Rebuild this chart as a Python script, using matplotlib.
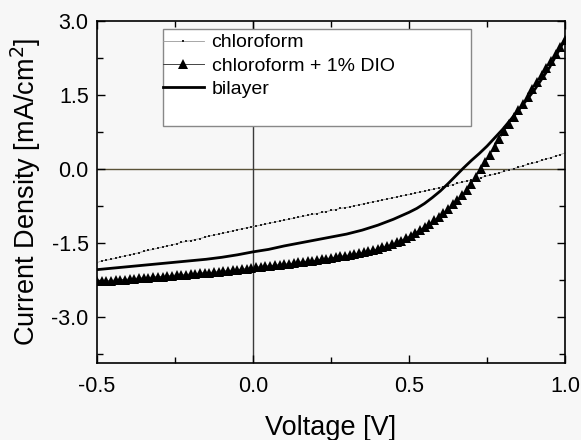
import numpy as np
import matplotlib
matplotlib.use("Agg")
import matplotlib.pyplot as plt
from matplotlib.patches import Rectangle
from matplotlib.ticker import MultipleLocator

plt.rcParams['font.family'] = ['Liberation Sans', 'DejaVu Sans']

# Voltage grid of the measured sweeps: -0.5 V to 1.0 V in 0.015 V steps
voltage = np.round(np.linspace(-0.5, 1.0, 101), 3)

chloroform = [
    -1.90, -1.86, -1.85, -1.83, -1.81, -1.785, -1.76, -1.74, -1.72, -1.695,
    -1.67, -1.65, -1.63, -1.605, -1.58, -1.56, -1.54, -1.515, -1.49, -1.47,
    -1.45, -1.43, -1.41, -1.385, -1.36, -1.34, -1.32, -1.30, -1.28, -1.255,
    -1.23, -1.215, -1.19, -1.175, -1.16, -1.135, -1.12, -1.095, -1.08, -1.055,
    -1.04, -1.02, -1.00, -0.98, -0.96, -0.94, -0.92, -0.905, -0.88, -0.865,
    -0.84, -0.825, -0.80, -0.785, -0.77, -0.745, -0.73, -0.705, -0.69, -0.665,
    -0.65, -0.63, -0.61, -0.59, -0.57, -0.55, -0.53, -0.515, -0.49, -0.47,
    -0.45, -0.43, -0.41, -0.385, -0.36, -0.34, -0.32, -0.295, -0.27, -0.245,
    -0.23, -0.20, -0.18, -0.15, -0.13, -0.10, -0.08, -0.05, -0.02, 0.005,
    0.03, 0.06, 0.09, 0.11, 0.14, 0.17, 0.20, 0.23, 0.26, 0.29,
    0.32,
]

chloroform_dio = [
    -2.28, -2.27, -2.27, -2.26, -2.25, -2.24, -2.24, -2.23, -2.22, -2.21,
    -2.21, -2.20, -2.19, -2.18, -2.18, -2.17, -2.16, -2.15, -2.15, -2.14,
    -2.13, -2.12, -2.11, -2.10, -2.10, -2.09, -2.08, -2.07, -2.06, -2.05,
    -2.04, -2.03, -2.02, -2.01, -1.99, -1.98, -1.97, -1.96, -1.95, -1.94,
    -1.93, -1.92, -1.91, -1.89, -1.88, -1.87, -1.86, -1.85, -1.83, -1.82,
    -1.80, -1.79, -1.77, -1.76, -1.74, -1.72, -1.71, -1.69, -1.67, -1.645,
    -1.62, -1.59, -1.56, -1.525, -1.49, -1.45, -1.40, -1.35, -1.29, -1.23,
    -1.17, -1.11, -1.04, -0.97, -0.89, -0.81, -0.72, -0.63, -0.53, -0.42,
    -0.30, -0.16, -0.01, 0.14, 0.28, 0.44, 0.60, 0.76, 0.91, 1.06,
    1.19, 1.32, 1.46, 1.61, 1.76, 1.91, 2.05, 2.19, 2.32, 2.46,
    2.60,
]

voltage_bilayer = [
    -0.50, -0.45, -0.40, -0.35, -0.30, -0.25, -0.20, -0.15, -0.10, -0.05,
    0.00, 0.05, 0.10, 0.15, 0.20, 0.25, 0.30, 0.35,
    0.400, 0.425, 0.450, 0.475, 0.500, 0.525, 0.550, 0.575, 0.600, 0.625,
    0.650, 0.675, 0.700, 0.725, 0.750,
    0.80, 0.85, 0.90, 0.95, 1.00,
]
bilayer = [
    -2.04, -2.01, -1.98, -1.95, -1.92, -1.89, -1.86, -1.83, -1.79, -1.74,
    -1.68, -1.63, -1.56, -1.50, -1.44, -1.38, -1.32, -1.24,
    -1.14, -1.08, -1.02, -0.95, -0.88, -0.80, -0.70, -0.58, -0.45, -0.30,
    -0.14, 0.02, 0.17, 0.31, 0.46,
    0.80, 1.18, 1.58, 2.05, 2.62,
]

labels = ["chloroform", "chloroform + 1% DIO", "bilayer"]
x_ticks = [-0.5, 0.0, 0.5, 1.0]
y_ticks = [-3.0, -1.5, 0.0, 1.5, 3.0]

bg = '#f7f7f7'
fig = plt.figure(figsize=(5.81, 4.40), dpi=100, facecolor=bg)
ax = fig.add_axes([97 / 581, 1 - 363 / 440, 468 / 581, 342.3 / 440])
ax.set_facecolor(bg)

ax.axhline(0, color='#5b5338', lw=1.0, zorder=1)
ax.axvline(0, color='#3a3a3a', lw=1.0, zorder=1)

l1, = ax.plot(voltage, chloroform, color='#999999', lw=0.6,
              marker='s', markersize=1.9, markerfacecolor='#222222',
              markeredgecolor='#222222', markeredgewidth=0, zorder=3)
l2, = ax.plot(voltage, chloroform_dio, color='#444444', lw=0.7,
              marker='^', markersize=7.5, markerfacecolor='black',
              markeredgecolor='black', markeredgewidth=0, zorder=3)
l3, = ax.plot(voltage_bilayer, bilayer, color='black', lw=2.0, zorder=4)

ax.set_xlim(-0.5, 1.0)
ax.set_ylim(-3.93, 3.0)
ax.set_xticks(x_ticks)
ax.set_xticklabels([f"{t:.1f}" for t in x_ticks])
ax.set_yticks(y_ticks)
ax.set_yticklabels([f"{t:.1f}" for t in y_ticks])
ax.xaxis.set_minor_locator(MultipleLocator(0.25))
ax.yaxis.set_minor_locator(MultipleLocator(0.75))
ax.tick_params(which='both', direction='in', top=True, right=True,
               labelsize=15.5, width=1.0)
ax.tick_params(which='major', length=6)
ax.tick_params(which='minor', length=4)
ax.tick_params(axis='x', which='major', pad=9)
ax.tick_params(axis='y', which='major', pad=6)
for s in ax.spines.values():
    s.set_linewidth(1.2)

ax.set_xlabel("Voltage [V]", fontsize=19.5, labelpad=13)
ax.set_ylabel("Current Density [mA/cm$^2$]", fontsize=19.5, labelpad=6)

# legend frame
ax.add_patch(Rectangle((0.141, 0.692), 0.658, 0.284, transform=ax.transAxes,
                       facecolor='white', edgecolor='#888888', lw=1.0,
                       zorder=5))
leg = ax.legend([l1, l2, l3], labels, loc='upper left',
                bbox_to_anchor=(0.141, 0.962), frameon=False, fontsize=14,
                borderpad=0, borderaxespad=0, handlelength=2.1,
                handletextpad=0.4, labelspacing=0.3, numpoints=1)
leg.set_zorder(6)

fig.savefig("out.png", dpi=100, facecolor=bg)
